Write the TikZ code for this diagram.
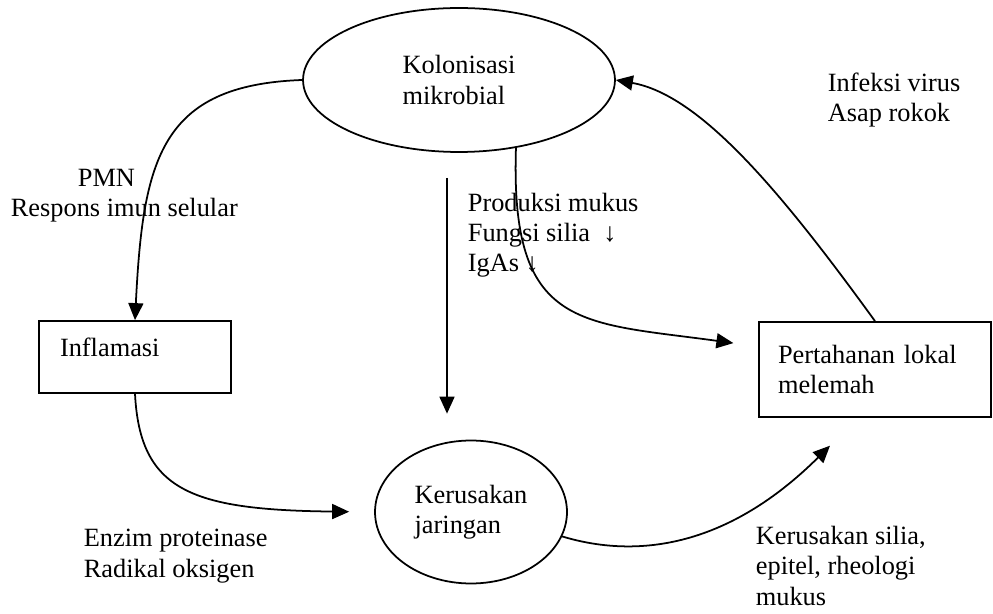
\documentclass[tikz,border=0pt]{standalone}
\usepackage{fontspec}
\setmainfont{Liberation Serif}
\usetikzlibrary{shapes.geometric, arrows.meta, positioning}

\begin{document}
\begin{tikzpicture}[x=0.02cm, y=-0.02cm, line width=1pt,
  font=\fontsize{15pt}{17.2pt}\selectfont,
  blob/.style={draw, ellipse, align=left, inner sep=0pt},
  box/.style={draw, rectangle, align=left},
  lbl/.style={anchor=base west, align=left, inner sep=0pt},
  arr/.style={-{Triangle[length=0.34cm, width=0.3cm]}}]
  \useasboundingbox (0,0) rectangle (993,614);

  % Ellipses
  \node[blob, minimum width=6.24cm, minimum height=2.88cm] (kolon) at (459,80) {Kolonisasi\\mikrobial};
  \node[blob, minimum width=3.84cm, minimum height=2.86cm] (kerus) at (471,512) {Kerusakan\\jaringan};

  % Boxes
  \node[box, minimum width=3.84cm, minimum height=1.44cm, inner xsep=0.42cm, text width=3.0cm,
        text height=0.38cm, text depth=0.4cm] (inflam) at (135,357) {Inflamasi};
  \node[box, minimum width=4.64cm, minimum height=1.9cm, inner xsep=0.38cm, text width=3.88cm] (pertah) at (875,369.5) {Pertahanan lokal\\melemah};

  % Labels (placed at the baseline of their last line)
  \node[lbl] (pmn) at (10,217) {\hspace*{1.34cm}PMN\\Respons imun selular};
  \node[lbl] (mukus) at (467,272) {Produksi mukus\\Fungsi silia\ \ ↓\\IgAs ↓};
  \node[lbl] (virus) at (827,122) {Infeksi virus\\Asap rokok};
  \node[lbl] (enzim) at (83,577) {Enzim proteinase\\Radikal oksigen};
  \node[lbl] (silia) at (755,605) {Kerusakan silia,\\epitel, rheologi\\mukus};

  % Connectors
  \draw[arr] (kolon.west) .. controls (160,85) and (143,160) .. (inflam.north);
  \draw[arr, shorten >=0.5cm] (inflam.south) .. controls (140,490) and (190,510) .. (kerus.west);
  \draw[arr, shorten <=0.5cm, shorten >=0.52cm] ([xshift=-0.24cm]kolon.south) -- ([xshift=-0.24cm]kolon.south |- kerus.north);
  \draw[arr, shorten >=0.5cm] (kolon.-50) .. controls (510,330) and (580,322) .. ([yshift=0.46cm]pertah.west);
  \draw[arr] (pertah.north) .. controls (780,190) and (700,95) .. (kolon.east);
  \draw[arr, shorten >=0.79cm] (kerus.-15) .. controls (640,560) and (730,545) .. ([xshift=-0.34cm]pertah.south);
\end{tikzpicture}
\end{document}
